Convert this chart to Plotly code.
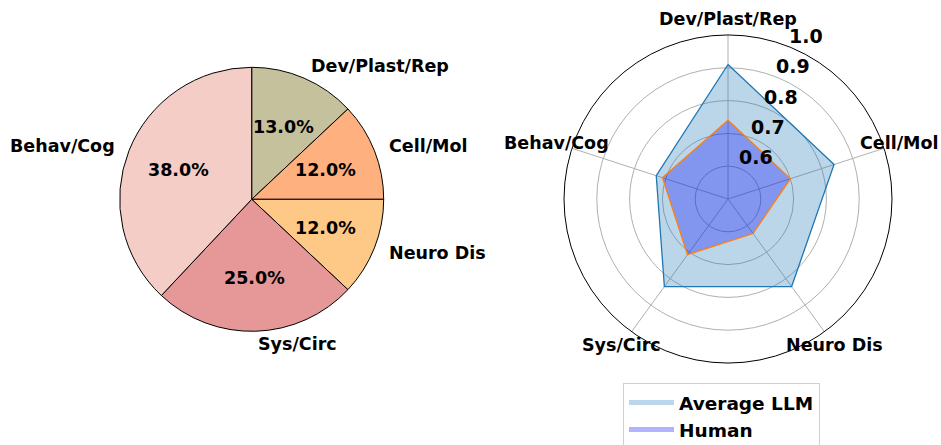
import numpy as np
import plotly.graph_objects as go

# ---------------- data ----------------
pie_labels = ["Dev/Plast/Rep", "Cell/Mol", "Neuro Dis", "Sys/Circ", "Behav/Cog"]
pie_values = [13.0, 12.0, 12.0, 25.0, 38.0]
pie_colors = ["#c5c19d", "#feb07f", "#fec886", "#e69797", "#f4cdc6"]

radar_categories = ["Dev/Plast/Rep", "Cell/Mol", "Neuro Dis", "Sys/Circ", "Behav/Cog"]
llm_scores = [0.91, 0.84, 0.83, 0.83, 0.73]
human_scores = [0.74, 0.70, 0.63, 0.71, 0.71]
radial_range = [0.5, 1.0]
radial_ticks = [0.6, 0.7, 0.8, 0.9, 1.0]
radial_tick_text = ["0.6", "0.7", "0.8", "0.9", "1.0"]
series_names = ["Average LLM", "Human"]

# ---------------- layout geometry ----------------
W, H = 941, 445
FONT = "DejaVu Sans"
LBL = dict(family=FONT, size=17.5, color="black", weight="bold")
TICK = dict(family=FONT, size=19, color="black", weight="bold")
pie_cx, pie_cy, pie_r = 251.7, 199.3, 132.0
pol_cx, pol_cy, pol_r = 728.0, 199.0, 164.0
rlabel_angle = 22.5  # degrees clockwise from north (matplotlib default position)

LLM_LINE, LLM_FILL, LLM_PATCH = "#1f77b4", "rgba(31,119,180,0.3)", "rgb(188,214,235)"
HUM_LINE, HUM_FILL, HUM_PATCH = "#ff7f0e", "rgba(0,0,255,0.3)", "rgb(178,178,255)"


def px2paper(x, y):
    return x / W, 1 - y / H


fig = go.Figure()

fig.add_trace(go.Pie(
    labels=pie_labels,
    values=pie_values,
    sort=False,
    direction="clockwise",
    rotation=0,
    marker=dict(colors=pie_colors, line=dict(color="black", width=1)),
    textinfo="none",
    showlegend=False,
    hoverinfo="label+percent",
    domain=dict(x=[(pie_cx - pie_r) / W, (pie_cx + pie_r) / W],
                y=[1 - (pie_cy + pie_r) / H, 1 - (pie_cy - pie_r) / H]),
))

# pie labels (1.1 radius) and percentages (0.6 radius) at slice mid-angles
annotations = []
total = sum(pie_values)
start = 90.0
for lab, v in zip(pie_labels, pie_values):
    span = v / total * 360.0
    mid = np.deg2rad(start - span / 2)
    start -= span
    c, s = np.cos(mid), np.sin(mid)
    px_, py_ = px2paper(pie_cx + 1.1 * pie_r * c, pie_cy - 1.1 * pie_r * s)
    annotations.append(dict(x=px_, y=py_, xref="paper", yref="paper", text=lab,
                            showarrow=False, xanchor="left" if c >= 0 else "right",
                            yanchor="middle", font=LBL))
    px_, py_ = px2paper(pie_cx + 0.6 * pie_r * c, pie_cy - 0.6 * pie_r * s)
    annotations.append(dict(x=px_, y=py_, xref="paper", yref="paper",
                            text=f"{v / total * 100:.1f}%",
                            showarrow=False, xanchor="center", yanchor="middle", font=LBL))

# radar
theta = radar_categories + radar_categories[:1]
llm_closed = llm_scores + llm_scores[:1]
human_closed = human_scores + human_scores[:1]

fig.add_trace(go.Scatterpolar(r=llm_closed, theta=theta, fill="toself", mode="lines",
                              line=dict(width=0), fillcolor=LLM_FILL,
                              name=series_names[0], showlegend=False, hoverinfo="skip"))
fig.add_trace(go.Scatterpolar(r=llm_closed, theta=theta, mode="lines", name=series_names[0],
                              line=dict(color=LLM_LINE, width=1.3), showlegend=False))
fig.add_trace(go.Scatterpolar(r=human_closed, theta=theta, fill="toself", mode="lines",
                              line=dict(width=0), fillcolor=HUM_FILL,
                              name=series_names[1], showlegend=False, hoverinfo="skip"))
fig.add_trace(go.Scatterpolar(r=human_closed, theta=theta, mode="lines", name=series_names[1],
                              line=dict(color=HUM_LINE, width=1.3), showlegend=False))

# legend patches (matplotlib-style filled rectangles)
for nm, col in zip(series_names, [LLM_PATCH, HUM_PATCH]):
    fig.add_trace(go.Scatterpolar(r=[None], theta=[None], mode="lines", name=nm,
                                  line=dict(color=col, width=11), showlegend=True,
                                  hoverinfo="skip"))

# radar category labels (centered at 1.1 radius)
n = len(radar_categories)
for i, cat in enumerate(radar_categories):
    ang = np.deg2rad(90 - 360.0 / n * i)
    px_, py_ = px2paper(pol_cx + 1.1 * pol_r * np.cos(ang), pol_cy - 1.1 * pol_r * np.sin(ang))
    annotations.append(dict(x=px_, y=py_, xref="paper", yref="paper", text=cat,
                            showarrow=False, xanchor="center", yanchor="middle", font=LBL))

# radial tick labels, placed like matplotlib (at 22.5 deg, nudged up-right)
ra = np.deg2rad(rlabel_angle)
for v, t in zip(radial_ticks, radial_tick_text):
    rp = (v - radial_range[0]) / (radial_range[1] - radial_range[0]) * pol_r
    x = pol_cx + rp * np.sin(ra) + 15
    y = pol_cy - rp * np.cos(ra) - 11.5
    px_, py_ = px2paper(x, y)
    annotations.append(dict(x=px_, y=py_, xref="paper", yref="paper", text=t,
                            showarrow=False, xanchor="center", yanchor="middle", font=TICK))

fig.update_layout(
    width=W, height=H,
    margin=dict(l=0, r=0, t=0, b=0, autoexpand=False),
    paper_bgcolor="white",
    plot_bgcolor="white",
    font=dict(family=FONT, color="black"),
    annotations=annotations,
    polar=dict(
        domain=dict(x=[(pol_cx - pol_r) / W, (pol_cx + pol_r) / W],
                    y=[1 - (pol_cy + pol_r) / H, 1 - (pol_cy - pol_r) / H]),
        bgcolor="white",
        radialaxis=dict(range=radial_range, tickvals=radial_ticks, ticktext=radial_tick_text,
                        showticklabels=False, showline=False, ticks="",
                        gridcolor="#b0b0b0", gridwidth=0.8),
        angularaxis=dict(rotation=90, direction="clockwise", showticklabels=False, ticks="",
                         gridcolor="#b0b0b0", gridwidth=0.8,
                         showline=True, linecolor="black", linewidth=1),
    ),
    legend=dict(x=623 / W, y=1 - 383 / H, xanchor="left", yanchor="top",
                bordercolor="#d0d0d0", borderwidth=1, bgcolor="white",
                font=dict(family=FONT, size=18.5, color="black", weight="bold"),
                tracegroupgap=0, itemsizing="constant", itemwidth=45),
)

fig.write_html(
    "out.html",
    config={"displayModeBar": False},
    post_script="document.body.style.margin='0';document.body.style.overflow='hidden';",
)
